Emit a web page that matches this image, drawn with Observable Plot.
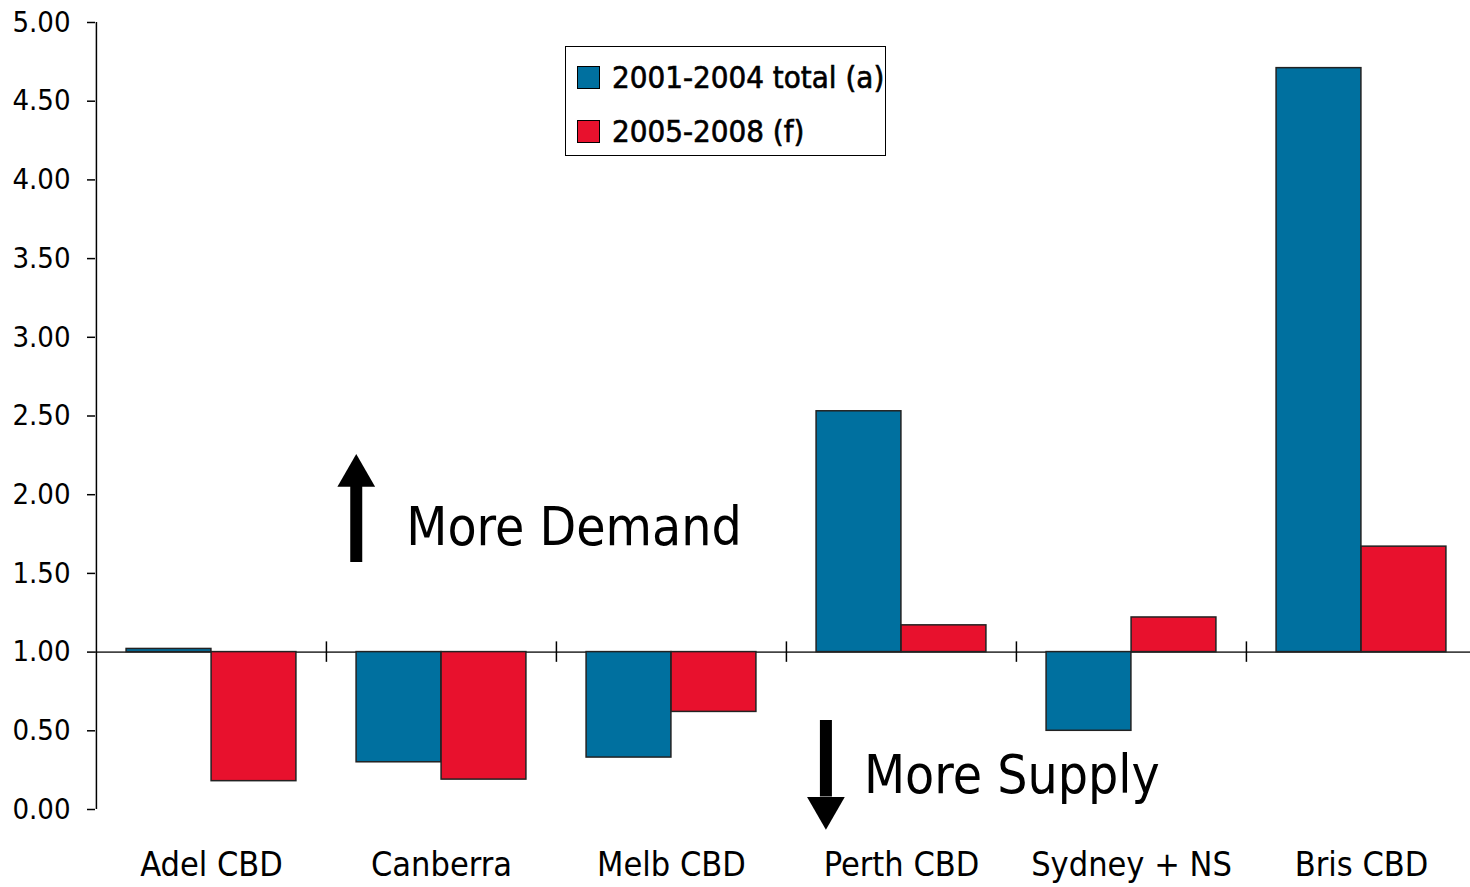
<!DOCTYPE html>
<html><head><meta charset="utf-8">
<script src="https://cdn.jsdelivr.net/npm/d3@7"></script>
<script src="https://cdn.jsdelivr.net/npm/@observablehq/plot@0.6"></script>
<style>
html,body{margin:0;padding:0;background:#fff;overflow:hidden;}
#wrap{position:relative;width:1476px;height:887px;font-family:"Liberation Sans Narrow","DejaVu Sans Condensed",sans-serif;}
.legend{position:absolute;left:565px;top:46px;width:321px;height:110px;border:1px solid #000;background:#fff;box-sizing:border-box;}
.item{position:absolute;left:11px;display:flex;align-items:center;font-size:31px;color:#000;white-space:nowrap;-webkit-text-stroke:0.6px #000;line-height:36px;}
.sw{width:23px;height:23px;border:1px solid #000;margin-right:12px;box-sizing:border-box;-webkit-text-stroke:0;}
</style></head><body><div id="wrap"></div>
<script>
const cities = ["Adel CBD", "Canberra", "Melb CBD", "Perth CBD", "Sydney + NS", "Bris CBD"];
const seriesNames = ["2001-2004 total (a)", "2005-2008 (f)"];
const values2001 = [1.02, 0.30, 0.33, 2.53, 0.50, 4.71];
const values2005 = [0.18, 0.19, 0.62, 1.17, 1.22, 1.67];
const seriesColors = ["#00709f", "#e8112d"];
const yTicks = [0, 0.5, 1, 1.5, 2, 2.5, 3, 3.5, 4, 4.5, 5];
const baseline = 1;
const demandNote = {city: "Canberra", y: 1.79, label: "More Demand"};
const supplyNote = {city: "Perth CBD", y: 0.215, label: "More Supply"};
const arrowUp = {city: "Canberra", y1: 1.57, y2: 2.06, head: 2.12};
const arrowDown = {city: "Perth CBD", y1: 0.565, y2: 0.08, head: 0.01};

const W = 1476, H = 887, ML = 95, MR = 0, MT = 22, MB = 78;
const step = (W - ML - MR) / cities.length;
const barW = 85;
const outer = (step - 2 * barW) / 2;

const d1 = cities.map((c, i) => ({city: c, value: values2001[i]}));
const d2 = cities.map((c, i) => ({city: c, value: values2005[i]}));
const font = '"Liberation Sans Narrow","DejaVu Sans Condensed",sans-serif';

const upDx = 355 - (ML + 1.5 * step);
const downDx = 825 - (ML + 3.5 * step);

const chart = Plot.plot({
  width: W, height: H,
  marginLeft: ML, marginRight: MR, marginTop: MT, marginBottom: MB,
  style: {fontFamily: font, background: "#fff", color: "#000", overflow: "visible"},
  x: {type: "band", domain: cities, padding: 0, axis: null},
  y: {domain: [0, 5], axis: null},
  marks: [
    Plot.ruleY([baseline], {stroke: "#444", strokeWidth: 1.6}),
    Plot.ruleX(cities.slice(1), {x: d => d, y1: 0.935, y2: 1.065, dx: -step / 2, stroke: "#000", strokeWidth: 1.5}),
    Plot.barY(d1, {x: "city", y1: baseline, y2: "value", fill: seriesColors[0], stroke: "#222", strokeWidth: 1.5,
      insetLeft: outer, insetRight: step - outer - barW}),
    Plot.barY(d2, {x: "city", y1: baseline, y2: "value", fill: seriesColors[1], stroke: "#222", strokeWidth: 1.5,
      insetLeft: outer + barW, insetRight: outer}),
    Plot.ruleX([cities[0]], {x: d => d, y1: 0, y2: 5, dx: -step / 2, stroke: "#000", strokeWidth: 1.5}),
    Plot.axisY({ticks: yTicks, tickFormat: d3.format(".2f"), tickSize: 8, tickPadding: 17, fontSize: 29, stroke: "#000", strokeWidth: 1.5}),
    Plot.axisX({tickSize: 0, tickPadding: 42, fontSize: 34, anchor: "bottom", label: null}),
    Plot.text([demandNote], {x: "city", y: "y", text: "label", textAnchor: "start", lineAnchor: "middle", fontSize: 53,
      dx: 405 - (ML + 1.5 * step), fill: "#000"}),
    Plot.text([supplyNote], {x: "city", y: "y", text: "label", textAnchor: "start", lineAnchor: "middle", fontSize: 53,
      dx: 863 - (ML + 3.5 * step), fill: "#000"}),
    Plot.ruleX([arrowUp], {x: "city", y1: "y1", y2: "y2", dx: upDx, stroke: "#000", strokeWidth: 12}),
    Plot.dot([arrowUp], {x: "city", y: "head", dx: upDx, symbol: "triangle", r: 14, fill: "#000", stroke: "none"}),
    Plot.ruleX([arrowDown], {x: "city", y1: "y1", y2: "y2", dx: downDx, stroke: "#000", strokeWidth: 12}),
    Plot.dot([arrowDown], {x: "city", y: "head", dx: downDx, symbol: "triangle", rotate: 180, r: 14, fill: "#000", stroke: "none"})
  ]
});
document.getElementById("wrap").appendChild(chart);

const legend = document.createElement("div");
legend.className = "legend";
seriesNames.forEach((name, i) => {
  const it = document.createElement("div");
  it.className = "item";
  it.style.top = (i === 0 ? 12 : 66) + "px";
  const sw = document.createElement("div");
  sw.className = "sw";
  sw.style.background = seriesColors[i];
  const t = document.createElement("span");
  t.textContent = name;
  it.appendChild(sw); it.appendChild(t);
  legend.appendChild(it);
});
document.getElementById("wrap").appendChild(legend);
</script></body></html>
